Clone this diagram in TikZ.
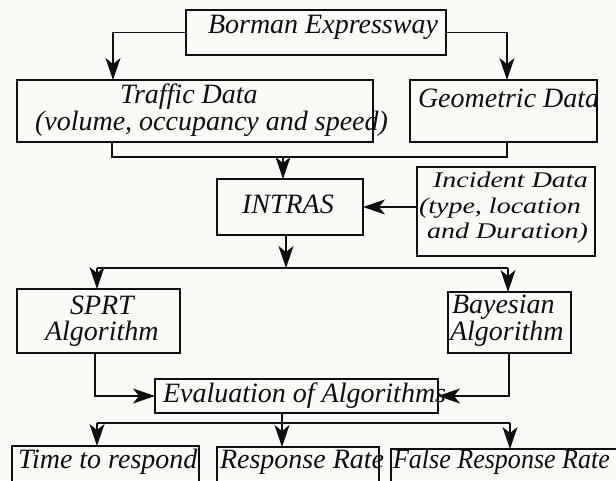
\documentclass[tikz,border=0pt]{standalone}
\usepackage{fontspec}
\setmainfont{Liberation Serif}
\usetikzlibrary{arrows.meta,fit,calc}
\definecolor{bg}{RGB}{250,250,246}
\definecolor{ink}{RGB}{15,15,15}
\begin{document}
\begin{tikzpicture}[x=1pt,y=-1pt,
  box/.style={draw=ink,line width=1.2pt,inner sep=0pt,outer sep=0pt},
  txt/.style={inner sep=0pt,outer sep=0pt,anchor=base west,text=ink,
    font=\itshape\fontsize{28}{28}\selectfont},
  line/.style={draw=ink,line width=1.2pt},
  conn/.style={line,-{Stealth[length=22pt,width=15pt,inset=6pt]}}]
\useasboundingbox (0,0) rectangle (616,480);
\fill[bg] (0,0) rectangle (616,480);
\clip (0,0) rectangle (616,480);
% boxes
\node[box,fit={(186,10) (446,55)}] (borman) {};
\node[box,fit={(17,80) (373,142)}] (traffic) {};
\node[box,fit={(410,80) (597,142)}] (geometric) {};
\node[box,fit={(217,179) (363,235)}] (intras) {};
\node[box,fit={(417,167) (595,256)}] (incident) {};
\node[box,fit={(17,289) (180,353)}] (sprt) {};
\node[box,fit={(448,292) (571,353)}] (bayes) {};
\node[box,fit={(155,379) (438,413)}] (eval) {};
\node[box,fit={(12,446) (199,495)}] (time) {};
\node[box,fit={(217,447) (379,495)}] (response) {};
\node[box,fit={(391,449) (640,495)}] (false) {};
% texts
\node[txt] (tborman) at (208,33) {Borman Expressway};
\node[txt] (ttraffic1) at (120,103) {Traffic Data};
\node[txt] (ttraffic2) at (35,130) {(volume, occupancy and speed)};
\node[txt] (tgeo) at (418,107) {Geometric Data};
\node[txt] (tintras) at (242,213) {INTRAS};
\node[txt] (tinc1) at (433,187) {\scalebox{1}[0.8]{Incident Data}};
\node[txt] (tinc2) at (419,213) {\scalebox{1}[0.8]{(type, location}};
\node[txt] (tinc3) at (427,238) {\scalebox{1}[0.8]{and Duration)}};
\node[txt] (tsprt1) at (70,314) {SPRT};
\node[txt] (tsprt2) at (45,340) {Algorithm};
\node[txt] (tbayes1) at (452,313) {Bayesian};
\node[txt] (tbayes2) at (450,340) {Algorithm};
\node[txt] (teval) at (163,402) {Evaluation of Algorithms};
\node[txt] (ttime) at (18,468) {Time to respond};
\node[txt] (tresp) at (220,468) {Response Rate};
\node[txt] (tfalse) at (393,468) {\scalebox{0.93}[1]{False Response Rate}};
% junction coordinates
\coordinate (j1) at (283,157);
\coordinate (j2) at (286,268);
\coordinate (b1) at (97,268);
\coordinate (b2) at (508,268);
\coordinate (b3) at (97,423);
\coordinate (b4) at (510,423);
\coordinate (b5) at (282,423);
% connectors
\draw[conn] (borman.west) -| ([xshift=96pt]traffic.north west);
\draw[conn] (borman.east) -| ([xshift=97pt]geometric.north west);
\draw[line] ([xshift=95pt]traffic.south west) |- (j1) -| ([xshift=97pt]geometric.south west);
\draw[conn] (j1) -- (j1 |- intras.north);
\draw[conn] (incident.west |- intras.east) -- (intras.east);
\draw[conn] (intras.south -| j2) -- (j2);
\draw[line] (b1) -- (b2);
\draw[conn] (b1) -- (b1 |- sprt.north);
\draw[conn] (b2) -- (b2 |- bayes.north);
\draw[conn] ([xshift=78pt]sprt.south west) |- (eval.west);
\draw[conn] ([xshift=61pt]bayes.south west) |- (eval.east);
\draw[line] (b3) -- (b4);
\draw[conn] (eval.south -| b5) -- (b5 |- response.north);
\draw[conn] (b3) -- (b3 |- time.north);
\draw[conn] (b4) -- (b4 |- false.north);
\end{tikzpicture}
\end{document}
